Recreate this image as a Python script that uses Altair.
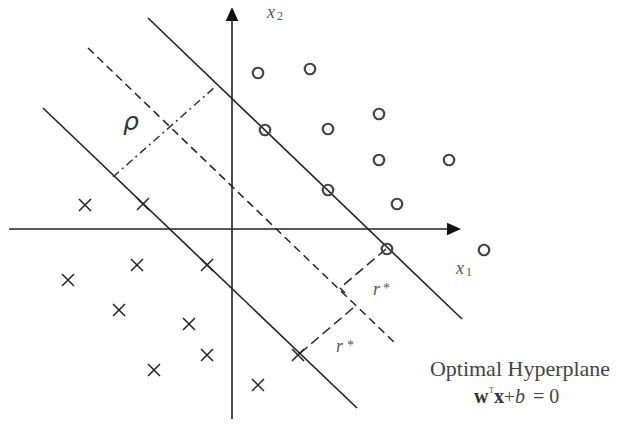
import altair as alt
import pandas as pd

# ---- data (diagram coordinates, origin at the axes crossing) ----
circ_x = [26, 78, 33, 147, 96, 147, 217, 96, 165, 155, 252]
circ_y = [156, 160, 99, 115, 100, 69, 69, 39, 25, -20, -21]

cross_x = [-147, -89, -164, -95, -25, -113, -43, -25, -78, 26, 66]
cross_y = [24, 25, -51, -36, -36, -81, -95, -126, -141, -156, -126]

# solid lines: upper margin, lower margin, x1 axis, x2 axis, right-angle mark
solid_x1 = [-84, -189, -223, 0, 108]
solid_y1 = [211, 121, 0, -190, -59]
solid_x2 = [230, 125, 218, 0, 113]
solid_y2 = [-90, -179, 0, 211, -64]

# optimal hyperplane (dashed)
hyp_x1 = [-144]
hyp_y1 = [181]
hyp_x2 = [165]
hyp_y2 = [-116]

# margin distances r* (long dashes)
r_x1 = [154, 121]
r_y1 = [-20, -79]
r_x2 = [108, 66]
r_y2 = [-59, -126]

# rho (dash-dot)
rho_x1 = [-119]
rho_y1 = [52]
rho_x2 = [-17]
rho_y2 = [142]

# arrow heads
arrow_x = [0, 222]
arrow_y = [215, 0]

XD = [-224, 379]
YD = [-190, 221]

xs = alt.Scale(domain=XD, nice=False, zero=False)
ys = alt.Scale(domain=YD, nice=False, zero=False)


def X(f):
    return alt.X(f, type="quantitative", scale=xs, axis=None)


def Y(f):
    return alt.Y(f, type="quantitative", scale=ys, axis=None)


def seg_df(a, b, c, d):
    return pd.DataFrame({"x1": a, "y1": b, "x2": c, "y2": d})


def seg_layer(df, **kw):
    return alt.Chart(df).mark_rule(**kw).encode(
        x=X("x1"), y=Y("y1"), x2="x2", y2="y2"
    )


solid = seg_layer(seg_df(solid_x1, solid_y1, solid_x2, solid_y2),
                  color="#222222", strokeWidth=1.6)
hyp = seg_layer(seg_df(hyp_x1, hyp_y1, hyp_x2, hyp_y2),
                color="#222222", strokeWidth=1.5, strokeDash=[8, 5])
rlines = seg_layer(seg_df(r_x1, r_y1, r_x2, r_y2),
                   color="#222222", strokeWidth=1.5, strokeDash=[10, 5])
rho = seg_layer(seg_df(rho_x1, rho_y1, rho_x2, rho_y2),
                color="#333333", strokeWidth=1.5, strokeDash=[8, 4, 2, 4])

up_arrow = alt.Chart(pd.DataFrame({"x": arrow_x[:1], "y": arrow_y[:1]})).mark_point(
    shape="M0,-1L-0.9,1L0.9,1Z", filled=True, size=196, color="#111111", opacity=1
).encode(x=X("x"), y=Y("y"))
right_arrow = alt.Chart(pd.DataFrame({"x": arrow_x[1:], "y": arrow_y[1:]})).mark_point(
    shape="M1,0L-1,-0.9L-1,0.9Z", filled=True, size=196, color="#111111", opacity=1
).encode(x=X("x"), y=Y("y"))

circles = alt.Chart(pd.DataFrame({"x": circ_x, "y": circ_y})).mark_point(
    shape="circle", filled=False, size=110, color="#444444", strokeWidth=2.2, opacity=1
).encode(x=X("x"), y=Y("y"))

crosses = alt.Chart(pd.DataFrame({"x": cross_x, "y": cross_y})).mark_point(
    shape="M-1,-1L1,1M-1,1L1,-1", filled=False, size=144, color="#222222",
    strokeWidth=1.5, opacity=1
).encode(x=X("x"), y=Y("y"))


def txt(xv, yv, t, **kw):
    return alt.Chart(pd.DataFrame({"x": xv, "y": yv, "t": t})).mark_text(**kw).encode(
        x=X("x"), y=Y("y"), text="t:N"
    )


serif = "Liberation Serif"
gray = "#555555"

# axis labels x2, x1
lab_x = txt([35, 224], [211, -45], ["x", "x"], font=serif, fontStyle="italic",
            fontSize=18, color=gray, align="left", baseline="alphabetic")
lab_sub = txt([45, 234], [209, -47], ["2", "1"], font=serif,
              fontSize=12, color=gray, align="left", baseline="alphabetic")
# r* labels
lab_r = txt([141, 104], [-66, -123], ["r", "r"], font=serif, fontStyle="italic",
            fontSize=18, color=gray, align="left", baseline="alphabetic")
lab_star = txt([151, 115], [-64, -121], ["*", "*"], font=serif,
               fontSize=14, color=gray, align="left", baseline="alphabetic")
lab_rho = txt([-101], [107], ["ρ"], font="DejaVu Sans", fontStyle="italic",
              fontSize=25, color="#333333", align="center", baseline="middle")
title = txt([288], [-147], ["Optimal Hyperplane"], font=serif, fontSize=22,
            color="#444444", align="center", baseline="alphabetic")
eq_bold = txt([242, 262], [-174, -174], ["w", "x"], font=serif, fontWeight="bold",
              fontSize=20, color="#333333", align="left", baseline="alphabetic")
eq_T = txt([257], [-164], ["T"], font=serif, fontSize=8,
           color=gray, align="left", baseline="alphabetic")
eq_plus = txt([272], [-174], ["+"], font=serif, fontSize=19,
              color="#444444", align="left", baseline="alphabetic")
eq_b = txt([283], [-174], ["b"], font=serif, fontStyle="italic", fontSize=20,
           color="#444444", align="left", baseline="alphabetic")
eq_rest = txt([301], [-174], ["= 0"], font=serif, fontSize=20,
              color="#444444", align="left", baseline="alphabetic")

chart = alt.layer(
    solid, hyp, rlines, rho, up_arrow, right_arrow, circles, crosses,
    lab_x, lab_sub, lab_r, lab_star, lab_rho, title,
    eq_bold, eq_T, eq_plus, eq_b, eq_rest
).properties(
    width=603, height=411, padding=0, autosize=alt.AutoSizeParams(type="none")
).configure_view(stroke=None)

chart.save("out.html", embed_options={"renderer": "svg", "actions": False})
